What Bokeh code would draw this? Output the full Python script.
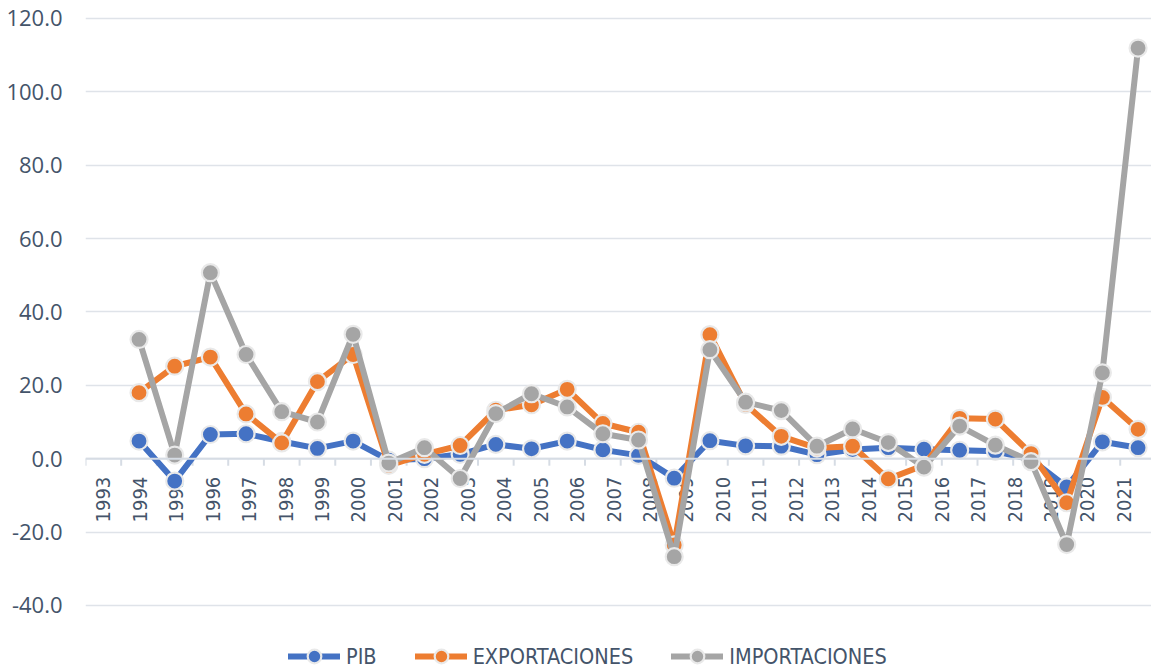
import numpy as np
from bokeh.plotting import figure
from bokeh.models import (Range1d, Span, Legend, LegendItem, FixedTicker,
                          NumeralTickFormatter, ColumnDataSource)
from bokeh.core.properties import value
from bokeh.embed import file_html
from bokeh.resources import INLINE

# ---- data ----
axis_labels = [str(y) for y in range(1993, 2022)]          # labels shown on axis
categories = list(range(1993, 2023))                        # 30 category slots
years = list(range(1994, 2023))                              # years with data

pib = [4.8, -6.1, 6.6, 6.8, 4.7, 2.8, 4.8, -0.4, 0.0, 1.2, 3.9, 2.7, 4.8, 2.4, 0.9,
       -5.3, 4.9, 3.5, 3.4, 1.1, 2.5, 3.0, 2.6, 2.3, 2.0, -0.2, -7.7, 4.6, 3.0]
exportaciones = [18.0, 25.2, 27.7, 12.2, 4.3, 21.0, 28.4, -1.8, 1.2, 3.6, 13.2, 14.7,
                 18.9, 9.6, 7.2, -23.5, 33.8, 14.8, 6.1, 2.9, 3.4, -5.5, -1.8, 11.0,
                 10.8, 1.4, -12.0, 16.7, 8.0]
importaciones = [32.5, 1.0, 50.7, 28.4, 12.8, 10.0, 33.9, -1.2, 3.0, -5.4, 12.3, 17.7,
                 14.1, 6.8, 5.1, -26.7, 29.7, 15.4, 13.1, 3.4, 8.1, 4.4, -2.3, 8.9,
                 3.7, -0.8, -23.4, 23.4, 111.9]
y_ticks = [-40, -20, 0, 20, 40, 60, 80, 100, 120]

series = [("PIB", pib, "#4472C4"),
          ("EXPORTACIONES", exportaciones, "#ED7D31"),
          ("IMPORTACIONES", importaciones, "#A5A5A5")]

TEXT = "#44546A"
GRID = "#dfe3e9"
NARROW = "DejaVu Sans Condensed, Roboto"

# category index positions
xidx = [categories.index(y) for y in years]
label_pos = np.arange(len(axis_labels)) * 1.0215
bounds = np.arange(len(categories) + 1) - 0.5

# frame extends below the last gridline to hold the legend
p = figure(width=1151, height=667, output_backend="svg", toolbar_location=None,
           x_range=Range1d(-0.5, -0.5 + 1066 / 35.68), y_range=Range1d(-56.9, 120.5),
           min_border_left=85, min_border_right=0, min_border_top=16,
           min_border_bottom=0)
p.outline_line_color = None
p.background_fill_color = "white"
p.border_fill_color = "white"

p.xaxis.visible = False
p.xgrid.visible = False
p.ygrid.grid_line_color = GRID
p.ygrid.grid_line_width = 1.5
yax = p.yaxis[0]
yax.ticker = FixedTicker(ticks=y_ticks)
yax.formatter = NumeralTickFormatter(format="0.0")
yax.axis_line_color = None
yax.major_tick_line_color = None
yax.minor_tick_line_color = None
yax.major_tick_in = 0
yax.major_tick_out = 0
yax.major_label_standoff = 23
yax.major_label_text_font = "Open Sans"
yax.major_label_text_font_size = "22px"
yax.major_label_text_color = TEXT

# horizontal category axis at zero
p.add_layout(Span(location=0, dimension="width", line_color="#d6dce4", line_width=2))
p.ray(x=bounds, y=0, length=7, length_units="screen", angle=-np.pi / 2,
      line_color="#d6dce4", line_width=2)
p.text(x=label_pos, y=0, text=axis_labels, angle=np.pi / 2, text_align="right",
       text_baseline="middle", y_offset=18, text_font=value(NARROW),
       text_font_size="20px", text_color=TEXT)

items = []
for name, vals, col in series:
    src = ColumnDataSource(dict(x=xidx, y=vals))
    lr = p.line("x", "y", source=src, line_color=col, line_width=6,
                line_join="round", line_cap="round")
    sr = p.scatter("x", "y", source=src, size=17, fill_color=col,
                   line_color="#e9e9e9", line_width=2.2)
    items.append(LegendItem(label=name, renderers=[lr, sr]))

legend = Legend(items=items, orientation="horizontal", location=(203, -6),
                glyph_width=52, glyph_height=34, label_standoff=6, spacing=38,
                padding=0, margin=0, border_line_color=None,
                background_fill_alpha=0, label_text_font=NARROW,
                label_text_font_size="21.5px", label_text_color=TEXT)
p.add_layout(legend, "center")

open("out.html", "w").write(file_html(p, INLINE))
